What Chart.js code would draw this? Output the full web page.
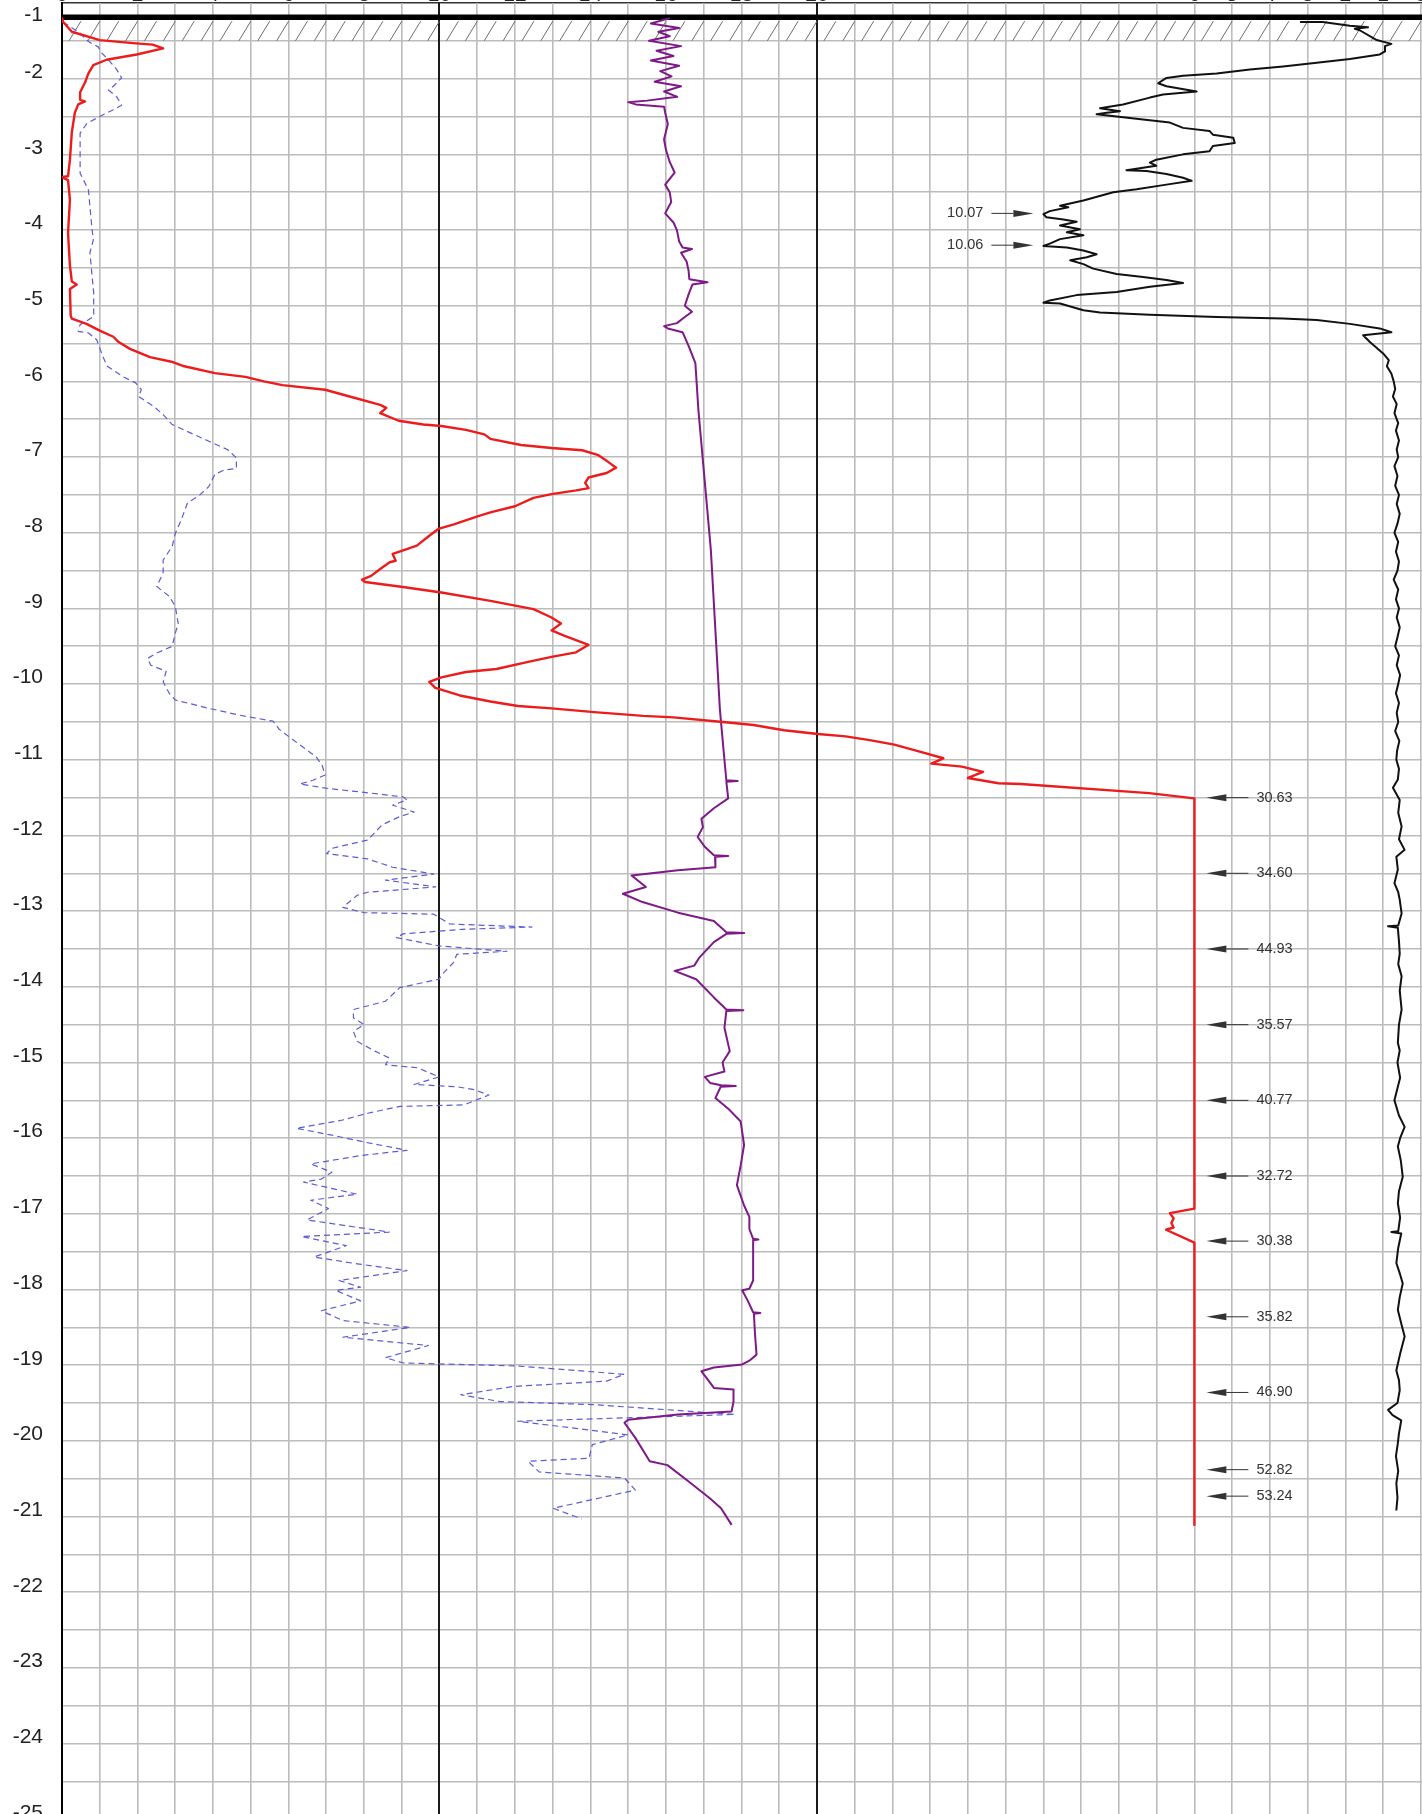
<!DOCTYPE html>
<html>
<head>
<meta charset="utf-8">
<script src="https://cdn.jsdelivr.net/npm/chart.js@4.4.1/dist/chart.umd.min.js"></script>
<style>
  html, body { margin: 0; padding: 0; background: #fff; }
  #wrap { width: 1422px; height: 1814px; }
</style>
</head>
<body>
<div id="wrap"><canvas id="id-cptLog" width="1422" height="1814"></canvas></div>
<script>
// depth in m (negative = down); all curve values
var qcDepth = [
  -1.19, -1.25, -1.38, -1.49, -1.53, -1.55, -1.60, -1.68, -1.75, -1.82,
  -1.93, -2.05, -2.18, -2.28, -2.30, -2.34, -2.45, -2.71, -3.07, -3.29,
  -3.30, -3.34, -3.60, -4.04, -4.47, -4.68, -4.72, -4.78, -5.13, -5.17,
  -5.24, -5.33, -5.41, -5.48, -5.57, -5.68, -5.74, -5.80, -5.89, -5.94,
  -6.00, -6.05, -6.11, -6.20, -6.31, -6.35, -6.42, -6.52, -6.57, -6.59,
  -6.64, -6.70, -6.76, -6.84, -6.88, -6.91, -6.97, -7.05, -7.14, -7.21,
  -7.27, -7.34, -7.41, -7.44, -7.49, -7.54, -7.65, -7.73, -7.78, -7.89,
  -7.95, -8.04, -8.17, -8.24, -8.28, -8.37, -8.39, -8.48, -8.57, -8.62,
  -8.65, -8.72, -8.79, -8.90, -9.01, -9.12, -9.20, -9.29, -9.36, -9.48,
  -9.58, -9.64, -9.71, -9.80, -9.84, -9.91, -9.97, -10.05, -10.15, -10.23,
  -10.29, -10.32, -10.37, -10.42, -10.44, -10.50, -10.54, -10.61, -10.66, -10.69,
  -10.74, -10.80, -10.89, -10.98, -11.05, -11.09, -11.16, -11.24, -11.31, -11.32,
  -11.44, -11.51, -16.93, -16.99, -17.06, -17.12, -17.18, -17.21, -17.38, -21.11
];
var qcValue = [
  0.0, 0.03, 0.26, 1.0, 1.88, 2.4, 2.68, 1.98, 1.18, 0.83,
  0.7, 0.61, 0.48, 0.48, 0.61, 0.43, 0.34, 0.26, 0.21, 0.16,
  0.0, 0.16, 0.21, 0.16, 0.21, 0.26, 0.39, 0.21, 0.23, 0.26,
  0.65, 1.0, 1.36, 1.5, 1.8, 2.33, 2.9, 3.24, 4.05, 4.86,
  5.35, 5.84, 6.97, 7.62, 8.43, 8.59, 8.43, 8.92, 9.57, 10.05,
  10.7, 11.19, 11.35, 12.16, 12.97, 13.78, 14.19, 14.43, 14.68, 14.43,
  13.95, 13.86, 13.95, 13.62, 12.97, 12.49, 12.0, 11.35, 11.03, 10.38,
  9.97, 9.73, 9.4, 9.0, 8.76, 8.84, 8.68, 8.43, 8.19, 7.95,
  8.03, 9.08, 10.05, 11.35, 12.49, 12.97, 13.22, 12.97, 13.3, 13.95,
  13.62, 12.97, 12.32, 11.51, 10.7, 10.05, 9.73, 9.89, 10.54, 11.35,
  12.08, 12.97, 14.1, 15.4, 16.2, 17.51, 18.32, 19.13, 20.03, 20.76,
  21.4, 22.05, 22.7, 23.35, 23.03, 23.84, 24.4, 24.0, 24.81, 25.4,
  28.8, 30, 30, 29.35, 29.45, 29.39, 29.45, 29.25, 30, 30
];

var fsDepth = [
  -1.25, -1.40, -1.51, -1.58, -1.66, -1.75, -1.88, -1.99, -2.10, -2.15,
  -2.24, -2.35, -2.41, -2.50, -2.59, -2.72, -2.94, -3.25, -3.47, -3.69,
  -3.96, -4.13, -4.30, -4.57, -4.83, -5.14, -5.20, -5.25, -5.34, -5.36,
  -5.45, -5.56, -5.69, -5.80, -5.94, -6.02, -6.11, -6.20, -6.33, -6.44,
  -6.57, -6.68, -6.79, -6.90, -7.01, -7.15, -7.17, -7.23, -7.39, -7.50,
  -7.61, -7.83, -8.01, -8.18, -8.36, -8.53, -8.71, -8.84, -8.97, -9.20,
  -9.33, -9.50, -9.59, -9.66, -9.75, -9.83, -9.97, -10.12, -10.21, -10.32,
  -10.41, -10.49, -10.60, -10.78, -10.96, -11.07, -11.20, -11.27, -11.32, -11.38,
  -11.43, -11.49, -11.53, -11.60, -11.69, -11.75, -11.86, -12.06, -12.17, -12.24,
  -12.31, -12.42, -12.51, -12.59, -12.68, -12.75, -12.79, -12.95, -13.02, -13.04,
  -13.17, -13.21, -13.24, -13.30, -13.35, -13.46, -13.53, -13.57, -13.68, -13.83,
  -13.90, -14.01, -14.19, -14.30, -14.41, -14.50, -14.59, -14.72, -14.85, -14.94,
  -15.03, -15.07, -15.19, -15.29, -15.32, -15.36, -15.43, -15.56, -15.58, -15.67,
  -15.76, -15.87, -15.96, -16.05, -16.16, -16.23, -16.34, -16.45, -16.54, -16.58,
  -16.74, -16.82, -16.93, -17.08, -17.24, -17.30, -17.42, -17.57, -17.66, -17.75,
  -17.88, -17.97, -18.01, -18.15, -18.28, -18.41, -18.50, -18.63, -18.74, -18.90,
  -18.97, -19.01, -19.12, -19.21, -19.28, -19.39, -19.48, -19.52, -19.65, -19.74,
  -19.92, -20.05, -20.23, -20.27, -20.41, -20.49, -20.65, -20.89, -21.03
];
var fsValue = [
  0.03, 0.48, 0.7, 0.96, 1.05, 1.23, 1.45, 1.58, 1.36, 1.23,
  1.45, 1.58, 1.36, 1.0, 0.66, 0.48, 0.48, 0.48, 0.7, 0.74,
  0.79, 0.83, 0.74, 0.79, 0.84, 0.84, 0.66, 0.48, 0.43, 0.7,
  0.92, 1.0, 1.1, 1.2, 1.62, 1.95, 2.1, 2.03, 2.43, 2.68,
  2.92, 3.4, 3.89, 4.38, 4.62, 4.62, 4.3, 4.05, 3.89, 3.65,
  3.32, 3.16, 3.0, 2.92, 2.68, 2.68, 2.51, 2.84, 3.0, 3.08,
  3.0, 2.92, 2.51, 2.27, 2.35, 2.76, 2.68, 2.84, 3.0, 3.89,
  4.7, 5.59, 5.76, 6.24, 6.73, 6.89, 6.97, 6.65, 6.3, 7.06,
  8.0, 9.04, 9.14, 8.76, 9.33, 8.95, 8.48, 8.1, 7.15, 7.01,
  8.1, 8.76, 9.85, 8.57, 9.9, 8.1, 7.82, 7.44, 8.0, 9.85,
  10.27, 12.45, 10.6, 9.04, 8.86, 9.99, 11.79, 10.46, 10.37, 10.08,
  9.99, 8.95, 8.57, 7.72, 7.72, 8.0, 7.72, 7.82, 8.29, 8.67,
  8.57, 9.42, 9.99, 9.33, 10.46, 10.93, 11.31, 10.65, 8.95, 8.1,
  7.44, 6.21, 7.15, 8.0, 9.14, 7.91, 6.59, 7.15, 6.87, 6.4,
  7.82, 6.59, 7.06, 6.49, 8.67, 6.35, 7.53, 6.68, 7.82, 9.14,
  7.34, 7.91, 7.25, 7.91, 6.87, 7.44, 9.23, 7.44, 9.71, 8.57,
  9.04, 12.07, 14.9, 14.43, 11.97, 10.56, 11.6, 14.05, 17.83, 12.07,
  15.0, 14.05, 13.96, 12.35, 12.64, 14.9, 15.19, 13.01, 13.77
];

var uDepth = [
  -1.20, -1.27, -1.33, -1.38, -1.44, -1.50, -1.57, -1.63, -1.70, -1.76,
  -1.83, -1.90, -1.97, -2.04, -2.10, -2.17, -2.24, -2.29, -2.31, -2.34,
  -2.37, -2.45, -2.60, -2.80, -2.94, -3.10, -3.24, -3.40, -3.50, -3.63,
  -3.78, -3.90, -4.00, -4.15, -4.23, -4.25, -4.30, -4.42, -4.54, -4.65,
  -4.69, -4.72, -4.85, -5.00, -5.08, -5.15, -5.23, -5.27, -5.30, -5.35,
  -5.53, -5.76, -6.38, -8.23, -10.34, -11.00, -11.27, -11.28, -11.29, -11.51,
  -11.64, -11.78, -11.89, -12.02, -12.15, -12.26, -12.27, -12.28, -12.42, -12.46,
  -12.53, -12.68, -12.77, -12.88, -13.02, -13.13, -13.28, -13.29, -13.30, -13.41,
  -13.61, -13.72, -13.79, -13.90, -14.14, -14.30, -14.31, -14.32, -14.54, -14.85,
  -15.00, -15.12, -15.19, -15.27, -15.30, -15.31, -15.32, -15.47, -15.61, -15.78,
  -16.09, -16.36, -16.62, -16.89, -17.04, -17.20, -17.33, -17.34, -17.35, -17.88,
  -17.99, -18.01, -18.15, -18.30, -18.31, -18.32, -18.59, -18.86, -18.94, -18.99,
  -19.03, -19.08, -19.17, -19.30, -19.32, -19.48, -19.61, -19.65, -19.72, -19.76,
  -19.96, -20.27, -20.32, -20.54, -20.76, -20.89, -21.11
];
var uValue = [
  16.1, 15.6, 16.35, 15.8, 16.1, 15.55, 16.4, 15.75, 16.2, 15.6,
  16.35, 15.85, 16.15, 15.7, 16.4, 15.95, 16.3, 15.5, 15.0, 15.2,
  15.95, 15.98, 16.05, 15.95, 16.0, 16.1, 16.23, 15.98, 16.1, 16.14,
  15.98, 16.2, 16.29, 16.35, 16.44, 16.69, 16.4, 16.55, 16.6, 16.62,
  17.1, 16.7, 16.6, 16.5, 16.69, 16.5, 16.29, 15.95, 16.05, 16.44,
  16.6, 16.78, 16.86, 17.19, 17.43, 17.55, 17.6, 17.9, 17.6, 17.65,
  17.27, 16.94, 16.98, 16.84, 17.03, 17.27, 17.65, 17.3, 17.31, 16.32,
  15.09, 15.47, 14.86, 15.38, 16.32, 17.27, 17.6, 18.07, 17.6, 17.27,
  16.89, 16.75, 16.23, 16.8, 17.27, 17.6, 18.05, 17.6, 17.55, 17.69,
  17.5, 17.55, 17.03, 17.17, 17.46, 17.85, 17.45, 17.31, 17.65, 17.98,
  18.07, 17.98, 17.88, 18.07, 18.21, 18.21, 18.31, 18.45, 18.31, 18.31,
  18.21, 18.02, 18.17, 18.31, 18.5, 18.33, 18.36, 18.4, 18.21, 18.02,
  17.27, 16.94, 17.08, 17.27, 17.79, 17.79, 17.74, 16.32, 15.0, 14.9,
  15.19, 15.57, 16.04, 16.61, 17.17, 17.46, 17.74
];

// friction ratio, % (plotted on the reversed right-hand scale)
var rfDepth = [
  -1.25, -1.25, -1.30, -1.32, -1.34, -1.36, -1.49, -1.54, -1.57, -1.64,
  -1.68, -1.74, -1.79, -1.84, -1.88, -1.93, -1.96, -1.99, -2.06, -2.10,
  -2.17, -2.21, -2.25, -2.34, -2.39, -2.43, -2.45, -2.47, -2.50, -2.54,
  -2.58, -2.65, -2.69, -2.74, -2.78, -2.85, -2.89, -2.96, -3.00, -3.07,
  -3.11, -3.15, -3.21, -3.22, -3.26, -3.31, -3.35, -3.40, -3.46, -3.50,
  -3.61, -3.68, -3.70, -3.75, -3.79, -3.83, -3.86, -3.89, -3.94, -3.99,
  -4.03, -4.07, -4.12, -4.18, -4.21, -4.23, -4.27, -4.32, -4.36, -4.40,
  -4.45, -4.51, -4.58, -4.62, -4.66, -4.70, -4.75, -4.82, -4.86, -4.93,
  -4.96, -4.97, -5.06, -5.09, -5.12, -5.15, -5.17, -5.19, -5.24, -5.30,
  -5.35, -5.39, -5.48, -5.63, -5.72, -5.80, -5.90, -6.00, -6.10, -6.20,
  -6.30, -6.42, -6.55, -6.65, -6.78, -6.90, -7.00, -7.12, -7.25, -7.38,
  -7.50, -7.62, -7.75, -7.88, -8.00, -8.12, -8.25, -8.38, -8.50, -8.62,
  -8.75, -8.88, -9.00, -9.12, -9.25, -9.38, -9.50, -9.62, -9.75, -9.88,
  -10.00, -10.12, -10.25, -10.38, -10.50, -10.62, -10.75, -10.88, -11.00, -11.12,
  -11.26, -11.37, -11.53, -11.70, -11.88, -12.05, -12.19, -12.28, -12.45, -12.63,
  -12.75, -12.85, -13.03, -13.19, -13.20, -13.22, -13.40, -13.56, -13.70, -13.86,
  -14.05, -14.30, -14.50, -14.74, -14.84, -15.00, -15.20, -15.50, -15.70, -15.85,
  -16.00, -16.11, -16.30, -16.51, -16.70, -16.86, -17.05, -17.23, -17.24, -17.26,
  -17.45, -17.65, -17.80, -17.92, -18.10, -18.27, -18.45, -18.62, -18.85, -19.07,
  -19.20, -19.33, -19.50, -19.59, -19.66, -19.73, -19.90, -20.03, -20.20, -20.40,
  -20.56, -20.75, -20.92
];
var rfValue = [
  3.2, 2.6, 1.88, 1.4, 1.75, 1.62, 1.17, 0.78, 0.95, 0.95,
  1.09, 1.88, 2.76, 3.65, 4.53, 5.41, 6.3, 6.74, 6.96, 6.74,
  5.94, 6.83, 7.18, 7.89, 8.5, 7.97, 8.32, 8.59, 8.06, 7.36,
  6.65, 6.3, 5.6, 5.51, 4.97, 4.93, 5.51, 5.6, 6.3, 7.01,
  7.18, 7.01, 7.8, 7.27, 6.74, 6.3, 6.07, 6.74, 7.53, 8.15,
  8.94, 9.56, 9.34, 9.83, 10.0, 9.92, 9.47, 9.12, 9.56, 9.03,
  9.38, 8.94, 9.56, 9.83, 10.0, 9.38, 8.94, 8.59, 8.85, 9.29,
  8.94, 8.68, 8.06, 7.36, 6.74, 6.3, 7.18, 8.06, 9.12, 9.83,
  10.0, 9.56, 8.94, 8.5, 7.18, 5.41, 3.65, 2.76, 1.88, 1.09,
  0.78, 1.53, 1.35, 1.0, 0.85, 0.9, 0.78, 0.72, 0.68, 0.74,
  0.64, 0.7, 0.6, 0.66, 0.58, 0.64, 0.6, 0.7, 0.62, 0.68,
  0.58, 0.64, 0.56, 0.62, 0.7, 0.6, 0.66, 0.58, 0.62, 0.72,
  0.6, 0.66, 0.58, 0.64, 0.56, 0.62, 0.68, 0.58, 0.64, 0.55,
  0.6, 0.66, 0.58, 0.64, 0.6, 0.68, 0.57, 0.63, 0.65, 0.58,
  0.61, 0.74, 0.56, 0.6, 0.51, 0.58, 0.43, 0.65, 0.61, 0.7,
  0.6, 0.56, 0.51, 0.6, 0.87, 0.61, 0.58, 0.56, 0.6, 0.51,
  0.56, 0.51, 0.58, 0.61, 0.56, 0.62, 0.55, 0.7, 0.58, 0.43,
  0.55, 0.61, 0.53, 0.48, 0.58, 0.61, 0.55, 0.6, 0.78, 0.52,
  0.6, 0.65, 0.55, 0.48, 0.56, 0.61, 0.52, 0.43, 0.55, 0.65,
  0.58, 0.56, 0.62, 0.87, 0.75, 0.52, 0.58, 0.61, 0.66, 0.6,
  0.65, 0.62, 0.65
];

// clipped values written next to the curves
var qcLimit = 30;
var qcNoteDepth = [-11.5, -12.5, -13.5, -14.5, -15.5, -16.5, -17.36, -18.36, -19.36, -20.38, -20.73];
var qcNoteText = ["30.63", "34.60", "44.93", "35.57", "40.77", "32.72", "30.38", "35.82", "46.90", "52.82", "53.24"];
var rfLimit = 10;
var rfNoteDepth = [-3.78, -4.2];
var rfNoteText = ["10.07", "10.06"];

// ground surface and hatched top layer
var groundLevel = [-1.187];
var hatchBase = [-1.5];

var depthTop = -1, depthBottom = -24.93;
var trackMax = 36.03;           // width of the log in qc units
var rfZeroAt = 36;              // Rf scale runs right-to-left from here
var qcTickLabels = [0, 2, 4, 6, 8, 10, 12, 14, 16, 18, 20];
var rfTickLabels = [0, 1, 2, 3, 4, 5, 6];
var darkGridAt = [0, 10, 20];

var fontFamily = '"Liberation Sans", Arial, Helvetica, sans-serif';
var gridGrey = "#bcbcbc";

function pts(depths, values) {
  if (depths.length !== values.length) console.error("length mismatch", depths.length, values.length);
  return depths.map(function(d, i) { return {x: values[i], y: d}; });
}

// keep the plot area flush with the canvas edges
function noPad(s) {
  s.paddingTop = 0; s.paddingBottom = 0; s.paddingLeft = 0; s.paddingRight = 0;
}

function arrow(ctx, xTail, xTip, py) {
  var dir = xTip > xTail ? 1 : -1;
  var xBase = xTip - dir * 20;
  ctx.beginPath();
  ctx.moveTo(xTail, py);
  ctx.lineTo(xBase, py);
  ctx.stroke();
  ctx.beginPath();
  ctx.moveTo(xTip, py);
  ctx.lineTo(xBase, py - 3.5);
  ctx.lineTo(xBase, py + 3.5);
  ctx.closePath();
  ctx.fill();
}

var groundPlugin = {
  id: "groundPlugin",
  beforeDatasetsDraw: function(chart) {
    var ctx = chart.ctx, area = chart.chartArea, xs = chart.scales.x, ys = chart.scales.y;
    var yTop = ys.getPixelForValue(groundLevel[0]);
    var yBase = ys.getPixelForValue(hatchBase[0]);
    var step = xs.getPixelForValue(0.5) - xs.getPixelForValue(0);
    ctx.save();
    ctx.beginPath();
    ctx.rect(area.left, area.top, area.right - area.left, area.bottom - area.top);
    ctx.clip();
    ctx.strokeStyle = "#6e6e6e";
    ctx.lineWidth = 1;
    for (var px = area.left + 7; px < area.right + step; px += step) {
      ctx.beginPath();
      ctx.moveTo(px, yBase);
      ctx.lineTo(px + 12, yTop + 4);
      ctx.stroke();
    }
    ctx.strokeStyle = "#000";
    ctx.lineWidth = 5.5;
    ctx.beginPath();
    ctx.moveTo(area.left, yTop);
    ctx.lineTo(area.right, yTop);
    ctx.stroke();
    ctx.restore();
  }
};

var notePlugin = {
  id: "notePlugin",
  afterDatasetsDraw: function(chart) {
    var ctx = chart.ctx, xs = chart.scales.x, xr = chart.scales.xRf, ys = chart.scales.y;
    ctx.save();
    ctx.font = "14.5px " + fontFamily;
    ctx.fillStyle = "#333";
    ctx.strokeStyle = "#333";
    ctx.lineWidth = 1;
    ctx.textBaseline = "middle";

    var qx = xs.getPixelForValue(qcLimit);
    qcNoteDepth.forEach(function(d, i) {
      var py = ys.getPixelForValue(d);
      arrow(ctx, qx + 54, qx + 12, py);
      ctx.textAlign = "left";
      ctx.fillText(qcNoteText[i], qx + 62, py);
    });

    var rx = xr.getPixelForValue(rfLimit);
    rfNoteDepth.forEach(function(d, i) {
      var py = ys.getPixelForValue(d);
      arrow(ctx, rx - 52, rx - 10, py);
      ctx.textAlign = "right";
      ctx.fillText(rfNoteText[i], rx - 60, py);
    });
    ctx.restore();
  },
  afterDraw: function(chart) {
    // top depth label sits inside the frame instead of on its gridline
    var ctx = chart.ctx, ys = chart.scales.y;
    ctx.save();
    ctx.font = "21px " + fontFamily;
    ctx.fillStyle = "#222";
    ctx.textAlign = "right";
    ctx.textBaseline = "middle";
    ctx.fillText(String(depthTop), chart.chartArea.left - 19, ys.getPixelForValue(depthTop) + 12);
    ctx.restore();
  }
};

new Chart(document.getElementById("id-cptLog"), {
  type: "scatter",
  data: {
    datasets: [
      {label: "qc", data: pts(qcDepth, qcValue), showLine: true, borderColor: "#ec1c1c", borderWidth: 2.4, order: 1},
      {label: "fs", data: pts(fsDepth, fsValue), showLine: true, borderColor: "#5c5cd4", borderWidth: 1.2, borderDash: [6, 4], order: 4},
      {label: "u2", data: pts(uDepth, uValue), showLine: true, borderColor: "#7e1a88", borderWidth: 2, order: 2},
      {label: "Rf", data: pts(rfDepth, rfValue), xAxisID: "xRf", showLine: true, borderColor: "#111", borderWidth: 2, order: 3}
    ]
  },
  options: {
    responsive: false,
    animation: false,
    devicePixelRatio: 1,
    layout: {padding: 0, autoPadding: false},
    plugins: {legend: {display: false}, tooltip: {enabled: false}},
    elements: {
      point: {radius: 0, hoverRadius: 0},
      line: {tension: 0, borderJoinStyle: "round", fill: false}
    },
    scales: {
      y: {
        type: "linear", position: "left", min: depthBottom, max: depthTop,
        afterFit: function(s) { s.width = 62; noPad(s); },
        afterBuildTicks: function(s) {
          var t = [];
          for (var v = depthTop; v >= -25; v -= 0.5) t.push({value: v});
          s.ticks = t;
        },
        ticks: {
          autoSkip: false, padding: 19, labelOffset: -6.5, color: "#222",
          font: {family: fontFamily, size: 21},
          callback: function(v) { return (Number.isInteger(v) && v !== depthTop) ? String(v) : ""; }
        },
        grid: {
          drawTicks: false,
          color: function(c) { return c.tick && c.tick.value === depthTop ? "#333" : gridGrey; },
          lineWidth: 1.6
        },
        border: {display: true, color: "#000", width: 2}
      },
      x: {
        type: "linear", position: "top", min: 0, max: trackMax,
        afterFit: function(s) { s.height = 3; noPad(s); },
        afterBuildTicks: function(s) {
          var t = [];
          for (var v = 0; v <= 36; v++) t.push({value: v});
          s.ticks = t;
        },
        ticks: {
          autoSkip: false, maxRotation: 0, padding: -5, color: "#222",
          font: {family: fontFamily, size: 21},
          // qc labels on the left, Rf labels (reversed) on the right, both cut by the top edge
          callback: function(v) {
            if (qcTickLabels.indexOf(v) >= 0) return String(v);
            var rf = rfZeroAt - v;
            return rfTickLabels.indexOf(rf) >= 0 ? String(rf) : "";
          }
        },
        grid: {
          drawTicks: false,
          color: function(c) { return c.tick && darkGridAt.indexOf(c.tick.value) >= 0 ? "#1a1a1a" : gridGrey; },
          lineWidth: function(c) { return c.tick && darkGridAt.indexOf(c.tick.value) >= 0 ? 2 : 1.6; }
        },
        border: {display: false}
      },
      xRf: {
        type: "linear", display: false, reverse: true,
        min: rfZeroAt - trackMax, max: rfZeroAt
      }
    }
  },
  plugins: [groundPlugin, notePlugin]
});
</script>
</body>
</html>
